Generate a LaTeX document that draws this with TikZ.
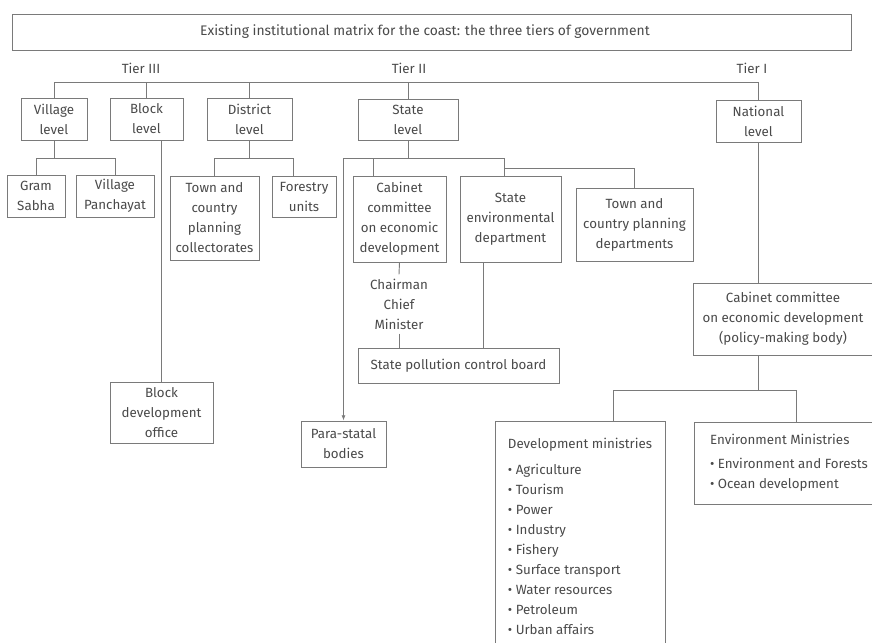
\documentclass[tikz,border=0pt]{standalone}
\usepackage{fontspec}
\setmainfont{Fira Sans}
\usetikzlibrary{arrows.meta}
\definecolor{ink}{HTML}{4A4A4A}
\definecolor{rule}{HTML}{7A7A7A}
\begin{document}
\begin{tikzpicture}[x=0.75pt,y=-0.75pt,
  every node/.style={text=ink, font=\fontsize{10}{15}\selectfont},
  box/.style={draw=rule, line width=0.6pt, inner sep=0pt, align=center},
  bxat/.style n args={4}{minimum width={(#3-#1)*0.75pt}, minimum height={(#4-#2)*0.75pt}, at={({(#1+#3)/2},{(#2+#4)/2})}},
  conn/.style={draw=rule, line width=0.7pt},
  lbl/.style={inner sep=0pt, align=center}
]
\useasboundingbox[fill=white] (0,0) rectangle (872,643);

\node[box, bxat={12}{14}{851}{50}] (title) {};
\node[lbl, font=\fontsize{10.4}{12}\selectfont] (titletext) at (425,32) {Existing institutional matrix for the coast: the three tiers of government};
\node[lbl] (t3) at (141,68) {Tier III};
\node[lbl] (t2) at (409,68) {Tier II};
\node[lbl] (t1) at (752,68) {Tier I};

\node[box,bxat={21}{98}{87}{140}] (village) {Village\\level};
\node[box,bxat={110}{98}{183}{140}] (block) {Block\\level};
\node[box,bxat={207}{98}{292}{140}] (district) {District\\level};
\node[box,bxat={358}{99}{458}{140}] (state) {State\\level};
\node[box,bxat={716}{100}{801}{142}] (national) {National\\level};

\node[box,bxat={7}{175}{65}{217}] (gram) {Gram\\Sabha};
\node[box,bxat={76}{175}{154}{217}] (panch) {Village\\Panchayat};
\node[box,bxat={170}{176}{259}{260}] (towncol) {Town and\\country\\planning\\collectorates};
\node[box,bxat={272}{176}{336}{217}] (forest) {Forestry\\units};
\node[box,bxat={110}{382}{213}{443}] (bdo) {Block\\development\\office};

\node[box,bxat={353}{176}{446}{262}] (scab) {Cabinet\\committee\\on economic\\development};
\node[box,bxat={460}{176}{561}{262}] (senv) {State\\environmental\\department};
\node[box,bxat={576}{188}{693}{261}] (stown) {Town and\\country planning\\departments};
\node[lbl, inner sep=3pt] (chair) at (399,304) {Chairman\\Chief\\Minister};
\node[box,bxat={358}{348}{559}{383}] (spcb) {State pollution control board};
\node[box,bxat={301}{421}{386}{467}] (para) {Para-statal\\bodies};

\node[box,bxat={693}{283}{873}{355}] (ncab) {Cabinet committee\\on economic development\\(policy-making body)};
\node[box,bxat={495}{421}{665}{652}, align=left] (devmin) {Development ministries\\[4pt]
• Agriculture\\• Tourism\\• Power\\• Industry\\• Fishery\\• Surface transport\\• Water resources\\• Petroleum\\• Urban affairs};
\node[box,bxat={694}{422}{884}{504}, align=left] (envmin) {Environment Ministries\\[3pt]
• Environment and Forests\\• Ocean development};

% tier bar
\coordinate (hb) at (0,82);
\draw[conn] (village.north) -- (village.north |- hb) -- (national.north |- hb) -- (national.north);
\draw[conn] (block.north) -- (block.north |- hb);
\draw[conn] (district.north) -- (district.north |- hb);
\draw[conn] (state.north) -- (state.north |- hb);

% village
\coordinate (vj) at (0,158);
\draw[conn] (village.south) -- (village.south |- vj);
\draw[conn] (gram.north) -- (gram.north |- vj) -- (panch.north |- vj) -- (panch.north);

% block
\draw[conn] (bdo.north |- block.south) -- (bdo.north);

% district
\coordinate (fN) at ([xshift=-8.25pt]forest.north);
\draw[conn] (district.south) -- (district.south |- vj);
\draw[conn] (towncol.north) -- (towncol.north |- vj) -- (fN |- vj) -- (fN);

% state
\coordinate (cN) at ([xshift=-19.9pt]scab.north);
\coordinate (eN) at ([xshift=-4.9pt]senv.north);
\coordinate (eS) at ([xshift=-20.6pt]senv.south);
\coordinate (tj) at (0,168);
\draw[conn] (state.south) -- (state.south |- vj);
\draw[conn] (para.north |- vj) -- (eN |- vj) -- (eN);
\draw[conn,-{Latex[length=4pt,width=3pt]}] (para.north |- vj) -- (para.north);
\draw[conn] (cN |- vj) -- (cN);
\draw[conn] (eN |- tj) -- (stown.north |- tj) -- (stown.north);
\draw[conn] (scab.south) -- (chair.north);
\draw[conn] (chair.south) -- (chair.south |- spcb.north);
\draw[conn] (eS) -- (eS |- spcb.north);

% national
\coordinate (nj) at (0,390);
\coordinate (dN) at ([xshift=24.75pt]devmin.north);
\coordinate (mN) at ([xshift=5.25pt]envmin.north);
\draw[conn] (national.south) -- (national.south |- ncab.north);
\draw[conn] (national.south |- ncab.south) -- (national.south |- nj);
\draw[conn] (dN) -- (dN |- nj) -- (mN |- nj) -- (mN);
\end{tikzpicture}
\end{document}
